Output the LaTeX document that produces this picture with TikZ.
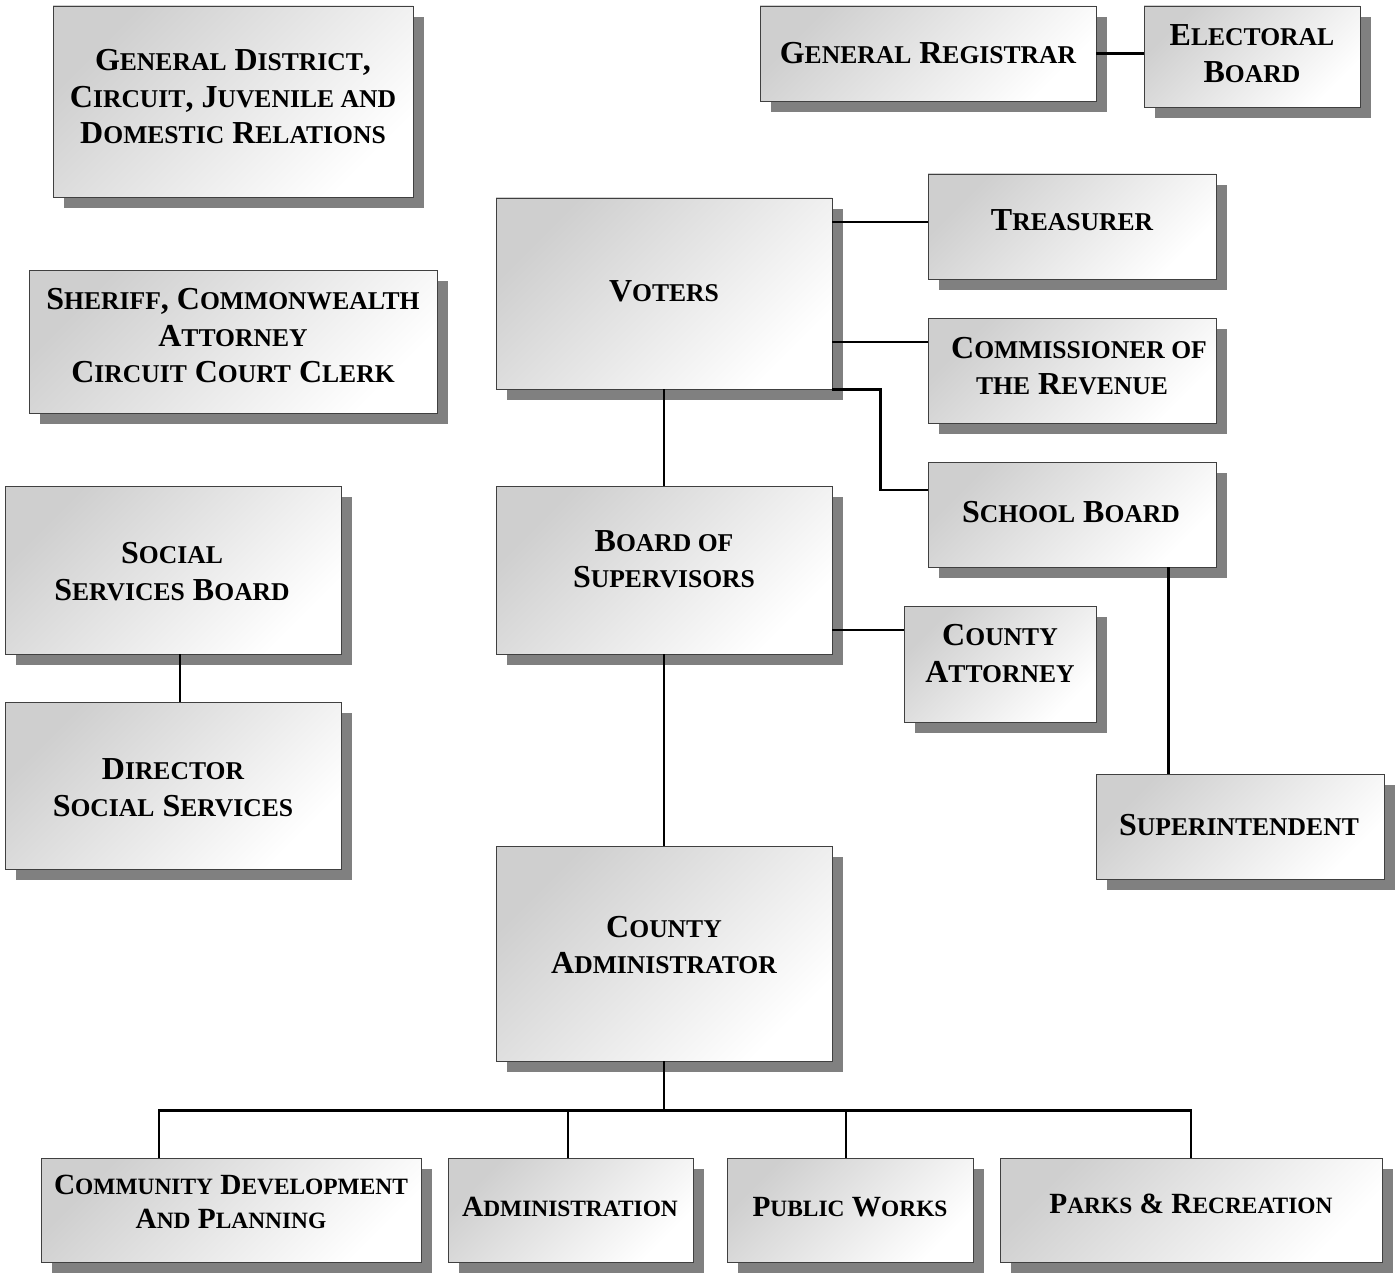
\documentclass[tikz,border=0pt]{standalone}
\usepackage{fontspec}
\setmainfont{Liberation Serif}
\usetikzlibrary{shadows}
\newcommand\Sm[1]{{\fontsize{25.6}{36.5}\selectfont #1}}
\newcommand\Smb[1]{{\fontsize{23.4}{33.5}\selectfont #1}}
\tikzset{
  orgbox/.style={rectangle, draw=black!75, line width=0.9pt, inner sep=0pt,
    shading=axis, top color=black!19, bottom color=white, shading angle=45,
    drop shadow={shadow xshift=11pt, shadow yshift=-11pt, fill=black!50, opacity=1}},
  txt/.style={align=center, inner sep=0pt, font=\fontsize{32}{36.5}\selectfont\bfseries},
  txtb/.style={align=center, inner sep=0pt, font=\fontsize{29.3}{34}\selectfont\bfseries},
  conn/.style={draw=black, line width=2.1pt}
}
\begin{document}
\begin{tikzpicture}[x=1pt,y=1pt]
\useasboundingbox (0,0) rectangle (1395,-1276);
% boxes
\node[orgbox, minimum width=360pt, minimum height=191pt] (gd) at (233,-101.5) {};
\node[orgbox, minimum width=336pt, minimum height=95pt] (gr) at (928,-53.5) {};
\node[orgbox, minimum width=216pt, minimum height=101pt] (eb) at (1252,-56.5) {};
\node[orgbox, minimum width=336pt, minimum height=191pt] (vot) at (664,-293.5) {};
\node[orgbox, minimum width=288pt, minimum height=105pt] (tre) at (1072,-226.5) {};
\node[orgbox, minimum width=408pt, minimum height=143pt] (sh) at (233,-341.5) {};
\node[orgbox, minimum width=288pt, minimum height=105pt] (com) at (1072,-370.5) {};
\node[orgbox, minimum width=288pt, minimum height=105pt] (sch) at (1072,-514.5) {};
\node[orgbox, minimum width=336pt, minimum height=168pt] (bos) at (664,-570) {};
\node[orgbox, minimum width=336pt, minimum height=168pt] (ssb) at (173,-570) {};
\node[orgbox, minimum width=192pt, minimum height=116pt] (catt) at (1000,-664) {};
\node[orgbox, minimum width=336pt, minimum height=167pt] (dss) at (173,-785.5) {};
\node[orgbox, minimum width=288pt, minimum height=105pt] (sup) at (1240,-826.5) {};
\node[orgbox, minimum width=336pt, minimum height=215pt] (ca) at (664,-953.5) {};
\node[orgbox, minimum width=380pt, minimum height=104pt] (cd) at (231,-1210) {};
\node[orgbox, minimum width=245pt, minimum height=104pt] (adm) at (570.5,-1210) {};
\node[orgbox, minimum width=246pt, minimum height=104pt] (pw) at (850,-1210) {};
\node[orgbox, minimum width=382pt, minimum height=104pt] (pr) at (1191,-1210) {};
% connector anchor points
\coordinate (treL) at ([yshift=4.5pt]tre.west);
\coordinate (comL) at ([yshift=-24pt]com.north west);
\coordinate (schL) at ([yshift=-28pt]sch.north west);
\coordinate (cattL) at ([yshift=-24pt]catt.north west);
\coordinate (schB) at ([xshift=-48pt]sch.south east);
\coordinate (ssbB) at ([xshift=7pt]ssb.south);
\coordinate (cdT) at ([xshift=118pt]cd.north west);
\coordinate (admT) at ([xshift=-2.5pt]adm.north);
\coordinate (pwT) at ([xshift=-4pt]pw.north);
% connectors
\draw[conn] (gr.east) -- (eb.west |- gr.east);
\draw[conn] (treL) -- (vot.east |- treL);
\draw[conn] (comL) -- (vot.east |- comL);
\draw[conn] (vot.south east) -- ++(48,0) |- (schL);
\draw[conn] (vot.south) -- (bos.north);
\draw[conn] (cattL) -- (bos.east |- cattL);
\draw[conn] (bos.south) -- (ca.north);
\draw[conn] (schB) -- (schB |- sup.north);
\draw[conn] (ssbB) -- (ssbB |- dss.north);
\draw[conn] (ca.south) -- ++(0,-49) coordinate (bus);
\draw[conn] (cdT) |- (pr.north |- bus) -- (pr.north);
\draw[conn] (admT) -- (admT |- bus);
\draw[conn] (pwT) -- (pwT |- bus);
% texts
\node[txt] (gdt) at (233,-97) {G\Sm{ENERAL} D\Sm{ISTRICT},\\ C\Sm{IRCUIT}, J\Sm{UVENILE AND}\\ D\Sm{OMESTIC} R\Sm{ELATIONS}};
\node[txt] (grt) at (928,-53) {G\Sm{ENERAL} R\Sm{EGISTRAR}};
\node[txt] (ebt) at (1252,-53.5) {E\Sm{LECTORAL}\\ B\Sm{OARD}};
\node[txt] (vott) at (664,-291) {V\Sm{OTERS}};
\node[txt] (tret) at (1072,-220) {T\Sm{REASURER}};
\node[txt] (sht) at (233,-336) {S\Sm{HERIFF}, C\Sm{OMMONWEALTH}\\ A\Sm{TTORNEY}\\ C\Sm{IRCUIT} C\Sm{OURT} C\Sm{LERK}};
\node[txt] (comt) at (1072,-366) {\hspace*{14pt}C\Sm{OMMISSIONER OF}\\ \Sm{THE} R\Sm{EVENUE}};
\node[txt] (scht) at (1071,-512) {S\Sm{CHOOL} B\Sm{OARD}};
\node[txt] (bost) at (664,-559) {B\Sm{OARD OF}\\ S\Sm{UPERVISORS}};
\node[txt] (ssbt) at (172,-571.5) {S\Sm{OCIAL}\\ S\Sm{ERVICES} B\Sm{OARD}};
\node[txt] (cattt) at (1000,-653.5) {C\Sm{OUNTY}\\ A\Sm{TTORNEY}};
\node[txt] (dsst) at (173,-787.5) {D\Sm{IRECTOR}\\ S\Sm{OCIAL} S\Sm{ERVICES}};
\node[txt] (supt) at (1239,-825) {S\Sm{UPERINTENDENT}};
\node[txt] (cat) at (664,-945) {C\Sm{OUNTY}\\ A\Sm{DMINISTRATOR}};
\node[txtb] (cdt) at (231,-1202) {C\Smb{OMMUNITY} D\Smb{EVELOPMENT}\\ A\Smb{ND} P\Smb{LANNING}};
\node[txtb] (admt) at (570,-1207) {A\Smb{DMINISTRATION}};
\node[txtb] (pwt) at (850,-1207) {P\Smb{UBLIC} W\Smb{ORKS}};
\node[txtb] (prt) at (1191,-1204) {P\Smb{ARKS} \& R\Smb{ECREATION}};
\end{tikzpicture}
\end{document}
